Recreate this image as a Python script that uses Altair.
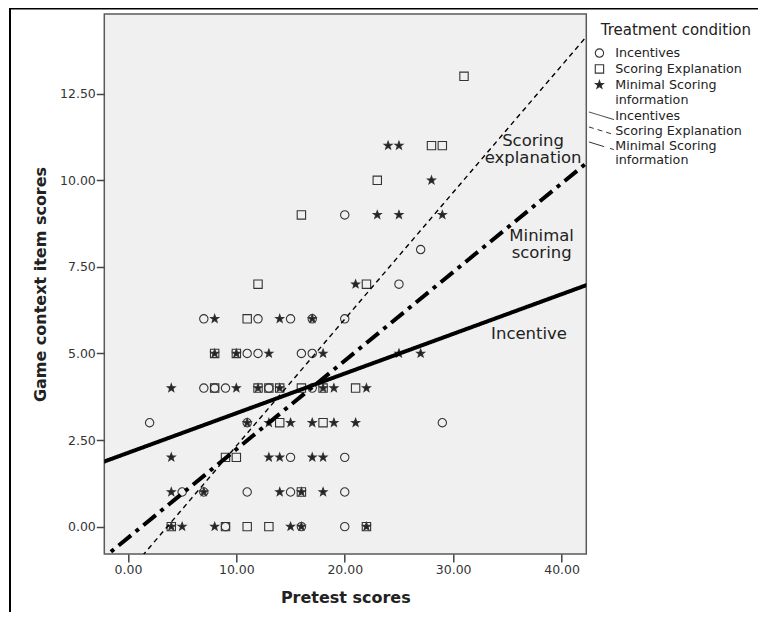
import altair as alt
import pandas as pd

# ---------------- data ----------------
groups = ["Incentives", "Scoring Explanation", "Minimal Scoring information"]

incentives_x = [20, 27, 25, 7, 12, 15, 17, 20, 11, 12, 16, 17, 7, 8, 9, 13, 17, 2, 11, 29, 15, 20, 5, 7, 11, 15, 20, 9, 16, 20]
incentives_y = [9, 8, 7, 6, 6, 6, 6, 6, 5, 5, 5, 5, 4, 4, 4, 4, 4, 3, 3, 3, 2, 2, 1, 1, 1, 1, 1, 0, 0, 0]

scoring_x = [31, 28, 29, 23, 16, 12, 22, 11, 8, 10, 8, 12, 13, 14, 16, 18, 21, 14, 18, 9, 10, 16, 4, 9, 11, 13, 22]
scoring_y = [13, 11, 11, 10, 9, 7, 7, 6, 5, 5, 4, 4, 4, 4, 4, 4, 4, 3, 3, 2, 2, 1, 0, 0, 0, 0, 0]

minimal_x = [24, 25, 28, 23, 25, 29, 21, 8, 14, 17, 8, 10, 13, 18, 25, 27, 4, 10, 12, 14, 18, 19, 22,
             11, 13, 15, 17, 19, 21, 4, 13, 14, 17, 18, 4, 7, 14, 16, 18, 4, 5, 8, 15, 16, 22]
minimal_y = [11, 11, 10, 9, 9, 9, 7, 6, 6, 6, 5, 5, 5, 5, 5, 5, 4, 4, 4, 4, 4, 4, 4,
             3, 3, 3, 3, 3, 3, 2, 2, 2, 2, 2, 1, 1, 1, 1, 1, 0, 0, 0, 0, 0, 0]

# fit lines (intercept, slope)
fit_intercepts = [2.13, -1.33, -0.324]
fit_slopes = [0.1145, 0.366, 0.2558]
fit_x_range = [-10, 50]

# in-plot line labels (one row per text line)
label_texts = ["Scoring", "explanation", "Minimal", "scoring", "Incentive"]
label_x = [37.37, 37.37, 38.16, 38.16, 37.0]
label_y = [11.14, 10.64, 8.39, 7.89, 5.56]

x_ticks = [0, 10, 20, 30, 40]
y_ticks = [0, 2.5, 5, 7.5, 10, 12.5]
x_domain = [-2.18, 42.28]
y_domain = [-0.79, 14.8]

# ---------------- tables ----------------
pts = pd.DataFrame({
    "pretest": incentives_x + scoring_x + minimal_x,
    "game": incentives_y + scoring_y + minimal_y,
    "group": [groups[0]] * len(incentives_x) + [groups[1]] * len(scoring_x) + [groups[2]] * len(minimal_x),
})

line_rows = []
for g, b0, b1 in zip(groups, fit_intercepts, fit_slopes):
    for xv in fit_x_range:
        line_rows.append({"pretest": xv, "game": b0 + b1 * xv, "group": g})
lines_df = pd.DataFrame(line_rows)

labels_df = pd.DataFrame({"text": label_texts, "pretest": label_x, "game": label_y})

FONT = "DejaVu Sans"
INK = "#222222"
STAR = "M0,-1L0.247,-0.34L0.951,-0.309L0.399,0.13L0.588,0.809L0,0.42L-0.588,0.809L-0.399,0.13L-0.951,-0.309L-0.247,-0.34Z"

xscale = alt.Scale(domain=x_domain, nice=False, zero=False)
yscale = alt.Scale(domain=y_domain, nice=False, zero=False)

xenc = alt.X("pretest:Q", scale=xscale,
             axis=alt.Axis(title="Pretest scores", values=x_ticks, format=".2f",
                           labelPadding=2, titlePadding=13))
yenc = alt.Y("game:Q", scale=yscale,
             axis=alt.Axis(title="Game context item scores", values=y_ticks, format=".2f",
                           labelPadding=1, titlePadding=11))

label_expr = "datum.label == 'Minimal Scoring information' ? ['Minimal Scoring', 'information'] : datum.label"

sym_legend = alt.Legend(title="Treatment condition", orient="none",
                        legendX=496.4, legendY=8.7, padding=0,
                        titleFont=FONT, titleFontSize=15, titleFontWeight="normal",
                        titleColor=INK, titlePadding=9,
                        labelFont=FONT, labelFontSize=12.7, labelColor=INK,
                        labelExpr=label_expr, labelOffset=9.4, symbolOffset=-7.6,
                        rowPadding=0.9, symbolSize=70,
                        symbolStrokeColor="#333333", symbolStrokeWidth=1.1)

points = alt.Chart(pts).mark_point(
    filled=True, strokeWidth=1.1, size=70, opacity=1
).encode(
    x=xenc, y=yenc,
    shape=alt.Shape("group:N", scale=alt.Scale(domain=groups, range=["circle", "square", STAR]),
                    legend=sym_legend),
    fill=alt.Fill("group:N", scale=alt.Scale(domain=groups, range=["transparent", "transparent", INK]),
                  legend=sym_legend),
    stroke=alt.Stroke("group:N", scale=alt.Scale(domain=groups, range=["#333333", "#333333", "#333333"]),
                      legend=sym_legend),
)

dash_legend = alt.Legend(title=None, orient="none", legendX=490, legendY=94.3,
                         padding=0, labelFont=FONT, labelFontSize=12.7,
                         labelColor=INK, labelExpr=label_expr,
                         symbolType="M-1.8,-0.55L1.8,0.55", symbolSize=196,
                         symbolStrokeWidth=1, symbolStrokeColor="#333333",
                         symbolOffset=-0.3, labelOffset=6.2, rowPadding=0)

lines = alt.Chart(lines_df).mark_line(clip=True, color="#000000", strokeCap="butt").encode(
    x=alt.X("pretest:Q", scale=xscale),
    y=alt.Y("game:Q", scale=yscale),
    detail="group:N",
    strokeDash=alt.StrokeDash("group:N", sort=groups,
                              scale=alt.Scale(range=[[1, 0], [5, 4], [16, 6, 4, 6]]),
                              legend=dash_legend),
    strokeWidth=alt.condition(alt.datum.group == groups[1], alt.value(1.4), alt.value(4)),
)

texts = alt.Chart(labels_df).mark_text(
    font=FONT, fontSize=16.5, align="center", baseline="middle", color=INK
).encode(x=alt.X("pretest:Q", scale=xscale), y=alt.Y("game:Q", scale=yscale), text="text:N")

frame_df = pd.DataFrame({"k": [0]})
frame_left = alt.Chart(frame_df).mark_rule(color="#000000", strokeWidth=2).encode(
    x=alt.value(-94.3), y=alt.value(-5.5), y2=alt.value(620))
frame_top = alt.Chart(frame_df).mark_rule(color="#000000", strokeWidth=2).encode(
    y=alt.value(-5.5), x=alt.value(-95.3), x2=alt.value(700))

chart = alt.layer(points, lines, texts, frame_left, frame_top).properties(
    width=482, height=540,
    autosize=alt.AutoSizeParams(type="none"),
    padding={"left": 96.3, "top": 6, "right": 172, "bottom": 58},
    background="white",
).configure_view(
    fill="#F0F0F0", stroke="#5a5a5a", strokeWidth=1.5
).configure_axis(
    labelFont=FONT, labelFontSize=12.5, labelColor="#333333",
    tickColor="#444444", tickSize=8, tickWidth=1.5, domain=False, grid=False,
    titleFont=FONT, titleFontSize=16, titleFontWeight="bold", titleColor=INK,
)

chart.save("out.html", embed_options={"renderer": "svg", "actions": False})
